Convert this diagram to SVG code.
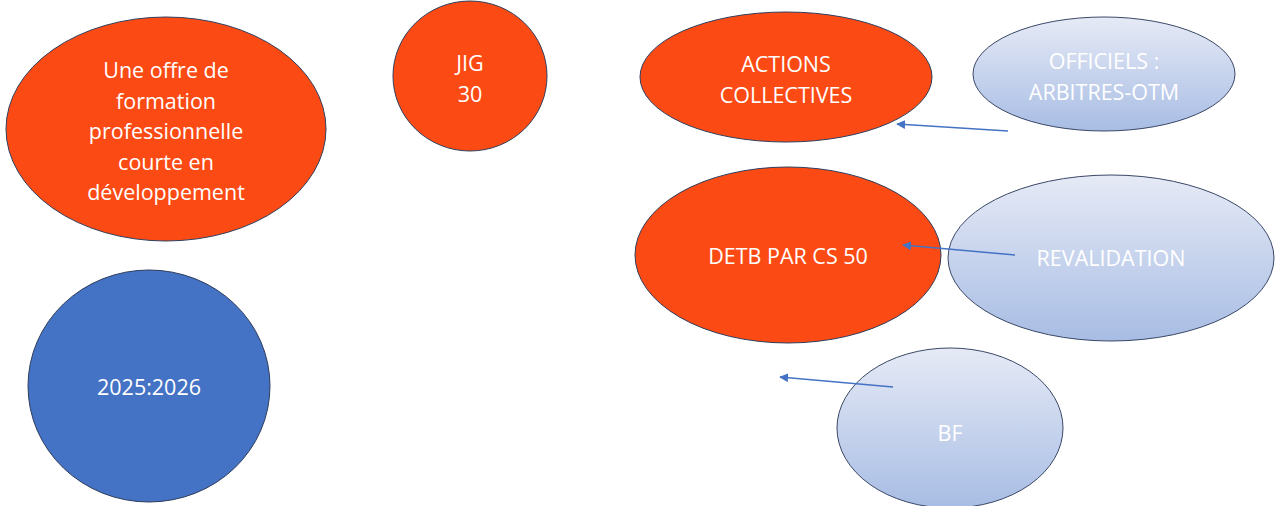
<svg xmlns="http://www.w3.org/2000/svg" width="1275" height="506" viewBox="0 0 1275 506">
<style>
.o{fill:#fc4a14;stroke:#2f3e5c;stroke-width:1}
.b{fill:#4472c4;stroke:#2f3e5c;stroke-width:1}
.l{fill:url(#g);stroke:#3a4866;stroke-width:1}
text{font-family:"Open Sans","Liberation Sans",sans-serif;font-size:21.5px;fill:#ffffff;text-anchor:middle;dominant-baseline:central}
.c{stroke:#4472c4;stroke-width:1.3;fill:none;marker-end:url(#a)}
</style>
<defs>
<linearGradient id="g" x1="0" y1="0" x2="0" y2="1">
<stop offset="0" stop-color="#e6eaf6"/>
<stop offset="1" stop-color="#a8bde4"/>
</linearGradient>
<marker id="a" viewBox="0 0 10 10" refX="9" refY="5" markerWidth="9" markerHeight="9" markerUnits="userSpaceOnUse" orient="auto">
<path d="M0,0 L10,5 L0,10 z" fill="#4472c4"/>
</marker>
</defs>
<rect width="1275" height="506" fill="#ffffff"/>
<g id="offre">
<ellipse class="o" cx="166" cy="129" rx="160" ry="112"/>
<text x="166" y="69">Une offre de</text>
<text x="166" y="100">formation</text>
<text x="166" y="130">professionnelle</text>
<text x="166" y="161">courte en</text>
<text x="166" y="191">développement</text>
</g>
<g id="jig">
<ellipse class="o" cx="470" cy="76" rx="77" ry="75"/>
<text x="470" y="62">JIG</text>
<text x="470" y="93">30</text>
</g>
<g id="actions">
<ellipse class="o" cx="786" cy="77" rx="146" ry="65"/>
<text x="786" y="63">ACTIONS</text>
<text x="786" y="94">COLLECTIVES</text>
</g>
<g id="officiels">
<ellipse class="l" cx="1104" cy="74" rx="131" ry="57"/>
<text x="1104" y="60">OFFICIELS :</text>
<text x="1104" y="91">ARBITRES-OTM</text>
</g>
<g id="detb">
<ellipse class="o" cx="788" cy="255" rx="153" ry="88"/>
<text x="788" y="255">DETB PAR CS 50</text>
</g>
<g id="revalidation">
<ellipse class="l" cx="1111" cy="258" rx="163" ry="83"/>
<text x="1111" y="257">REVALIDATION</text>
</g>
<g id="annee">
<ellipse class="b" cx="149" cy="386" rx="121" ry="116"/>
<text x="149" y="386">2025:2026</text>
</g>
<g id="bf">
<ellipse class="l" cx="950" cy="428" rx="113" ry="80"/>
<text x="950" y="432">BF</text>
</g>
<g id="connectors">
<line class="c" x1="1008" y1="131" x2="897" y2="124"/>
<line class="c" x1="1015" y1="255" x2="903" y2="245"/>
<line class="c" x1="893" y1="387" x2="780" y2="377"/>
</g>
</svg>
